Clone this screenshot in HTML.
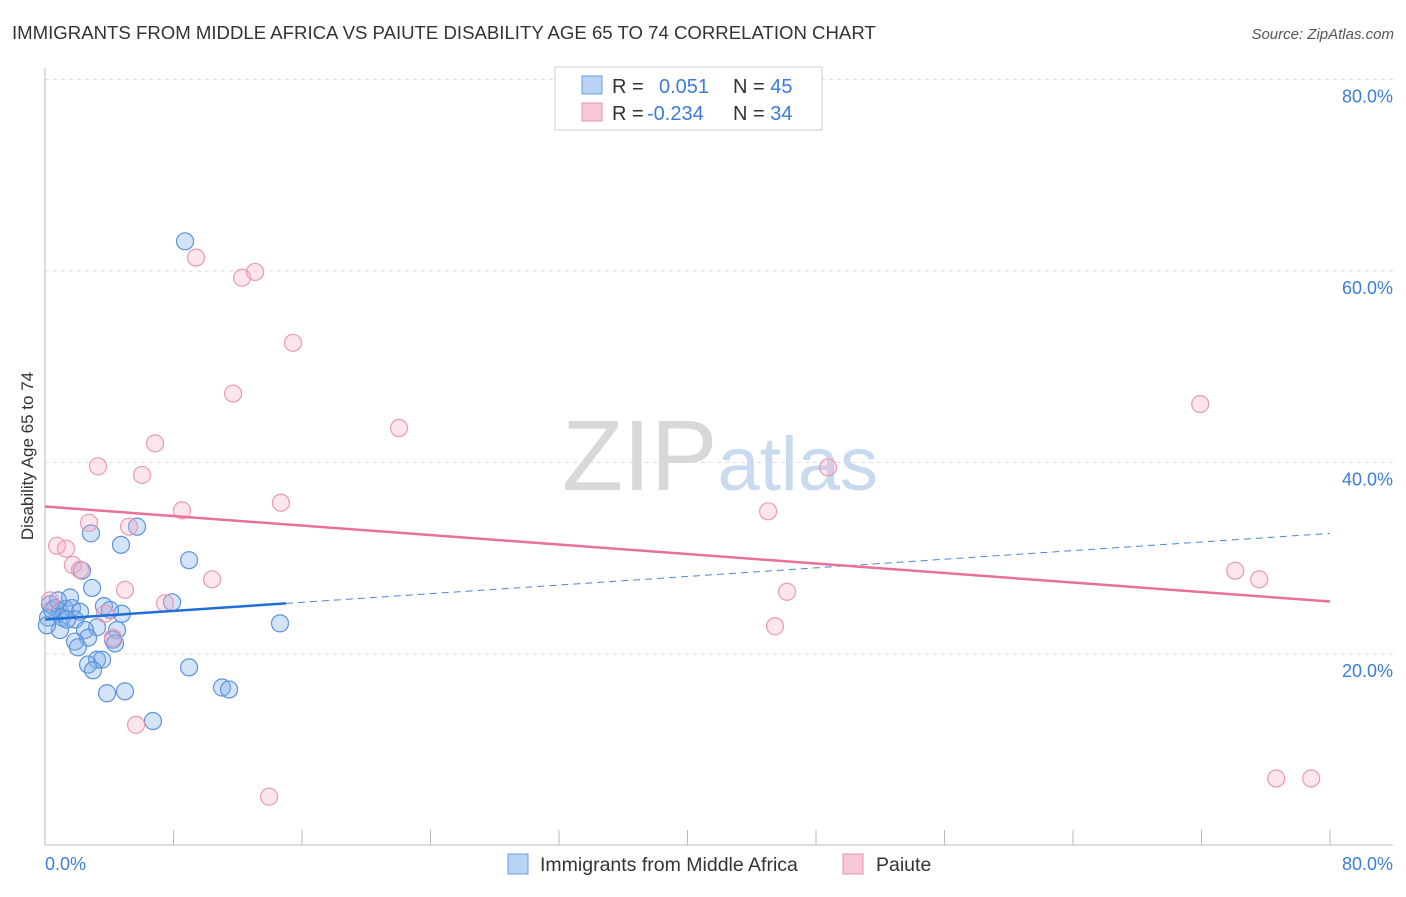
<!DOCTYPE html>
<html><head><meta charset="utf-8"><style>
body{margin:0;background:#fff;font-family:"Liberation Sans",sans-serif;}
svg text{font-family:"Liberation Sans",sans-serif;}
</style></head><body>
<svg id="chart" width="1406" height="892" viewBox="0 0 1406 892" xmlns="http://www.w3.org/2000/svg">
<text x="12" y="39" font-size="18.6" fill="#333">IMMIGRANTS FROM MIDDLE AFRICA VS PAIUTE DISABILITY AGE 65 TO 74 CORRELATION CHART</text>
<text x="1394" y="39" font-size="15" fill="#555" text-anchor="end" font-style="italic">Source: ZipAtlas.com</text>
<text x="720" y="490" font-size="100" fill="#ddd" text-anchor="middle" font-family="Liberation Serif"><tspan fill="#d8d8d8">ZIP</tspan><tspan fill="#c8daf0" font-family="Liberation Sans" font-size="76">atlas</tspan></text>
<g id="grid"></g>
<line x1="45" y1="68" x2="45" y2="845" stroke="#bbb"/>
<line x1="45" y1="845" x2="1393" y2="845" stroke="#bbb"/>
<g id="xticks"></g>
<text transform="translate(33,456) rotate(-90)" font-size="17" fill="#333" text-anchor="middle">Disability Age 65 to 74</text>
<text x="45" y="870" font-size="18" fill="#3b7dd8">0.0%</text>
<text x="1393" y="870" font-size="18" fill="#3b7dd8" text-anchor="end">80.0%</text>
<g id="pts"></g>
<g id="lines"></g>
<g>
<rect x="555" y="67" width="267" height="63" fill="#fff" stroke="#ccc"/>
<rect x="582" y="76" width="20" height="18" fill="#b8d3f5" stroke="#6a9ee0"/>
<rect x="582" y="103" width="20" height="18" fill="#f9c8d6" stroke="#e890aa"/>
<text x="612" y="93" font-size="20" fill="#333">R = <tspan fill="#3b7dd8" x="659">0.051</tspan><tspan fill="#333" x="733">N = </tspan><tspan fill="#3b7dd8">45</tspan></text>
<text x="612" y="120" font-size="20" fill="#333">R = <tspan fill="#3b7dd8" x="647">-0.234</tspan><tspan fill="#333" x="733">N = </tspan><tspan fill="#3b7dd8">34</tspan></text>
</g>
<g>
<rect x="508" y="854" width="20" height="20" fill="#b8d3f5" stroke="#6a9ee0"/>
<text x="540" y="871" font-size="19.5" fill="#333">Immigrants from Middle Africa</text>
<rect x="843" y="854" width="20" height="20" fill="#f9c8d6" stroke="#e890aa"/>
<text x="876" y="871" font-size="19.5" fill="#333">Paiute</text>
</g>
</svg>
<script>
const yTicks=[20,40,60,80];
const yTickLabels=["20.0%","40.0%","60.0%","80.0%"];
const xTicks=[0,8,16,24,32,40,48,56,64,72,80];
const blueX=[8.72,2.86,5.73,4.73,8.97,2.93,2.30,7.91,3.67,1.56,0.31,0.62,0.93,1.25,1.68,2.18,4.79,0.19,1.06,1.87,14.63,3.24,2.49,4.48,0.93,4.23,2.68,4.36,1.87,2.05,3.24,3.55,2.68,2.99,8.97,3.86,4.98,11.02,11.46,6.72,0.44,0.12,4.05,1.37,0.81];
const blueY=[63.1,32.6,33.3,31.4,29.8,26.9,28.7,25.4,25.0,25.9,25.2,24.8,24.4,24.7,24.8,24.4,24.2,23.8,23.8,23.6,23.2,22.8,22.5,22.5,22.5,21.5,21.7,21.1,21.3,20.7,19.4,19.4,18.9,18.3,18.6,15.9,16.1,16.5,16.3,13.0,24.6,23.0,24.6,23.6,25.6];
const pinkX=[9.40,12.27,13.08,15.44,11.71,22.04,6.85,3.30,6.04,14.69,8.53,2.74,5.23,0.75,1.31,1.74,2.18,10.40,4.98,7.47,0.31,3.74,4.23,5.67,13.95,48.75,45.02,46.20,45.45,71.92,74.10,75.59,76.65,78.83];
const pinkY=[61.4,59.3,59.9,52.5,47.2,43.6,42.0,39.6,38.7,35.8,35.0,33.7,33.3,31.3,31.0,29.3,28.8,27.8,26.7,25.3,25.6,24.2,21.7,12.6,5.1,39.5,34.9,26.5,22.9,46.1,28.7,27.8,7.0,7.0];
const blueTrend=[23.6,0.1125]; // intercept, slope
const blueSolidEnd=15;
const pinkTrend=[35.4,-0.124];
const NS="http://www.w3.org/2000/svg";
const X=v=>45+v*(1285/80), Y=v=>845.5-v*9.575;
function mk(tag,attrs,parent){const e=document.createElementNS(NS,tag);for(const k in attrs)e.setAttribute(k,attrs[k]);parent.appendChild(e);return e;}
const grid=document.getElementById('grid');
yTicks.forEach((t,i)=>{
 const l=mk('line',{x1:45,x2:1393,y1:Y(t),y2:Y(t),stroke:'#ddd','stroke-dasharray':'4,4'},grid);
 
 
 const tx=mk('text',{x:1393,y:Y(t)+23,'font-size':18,fill:'#3b7dd8','text-anchor':'end'},grid);
 tx.textContent=yTickLabels[i];
 
 
});
const xt=document.getElementById('xticks');
xTicks.forEach(t=>{
 const l=mk('line',{x1:X(t),x2:X(t),y1:830,y2:845,stroke:'#bbb'},xt);
 
 
});
const pts=document.getElementById('pts');
blueX.forEach((v,i)=>{
 const c=mk('circle',{cx:X(v),cy:Y(blueY[i]),r:8.5,fill:'rgba(130,175,235,0.35)',stroke:'#5b93dc','stroke-width':1.2},pts);
 
 
});
pinkX.forEach((v,i)=>{
 const c=mk('circle',{cx:X(v),cy:Y(pinkY[i]),r:8.5,fill:'rgba(245,170,195,0.3)',stroke:'#eb9ab3','stroke-width':1.2},pts);
 
 
});
const ln=document.getElementById('lines');
const bt=x=>blueTrend[0]+blueTrend[1]*x, pt=x=>pinkTrend[0]+pinkTrend[1]*x;
const b1=mk('line',{x1:X(0),y1:Y(bt(0)),x2:X(blueSolidEnd),y2:Y(bt(blueSolidEnd)),stroke:'#1f6fd6','stroke-width':2.5},ln);


const b2=mk('line',{x1:X(blueSolidEnd),y1:Y(bt(blueSolidEnd)),x2:X(80),y2:Y(bt(80)),stroke:'#4a86d8','stroke-width':1,'stroke-dasharray':'7,5'},ln);


const p1=mk('line',{x1:X(0),y1:Y(pt(0)),x2:X(80),y2:Y(pt(80)),stroke:'#e8709a','stroke-width':2.5},ln);


</script>
</body></html>
